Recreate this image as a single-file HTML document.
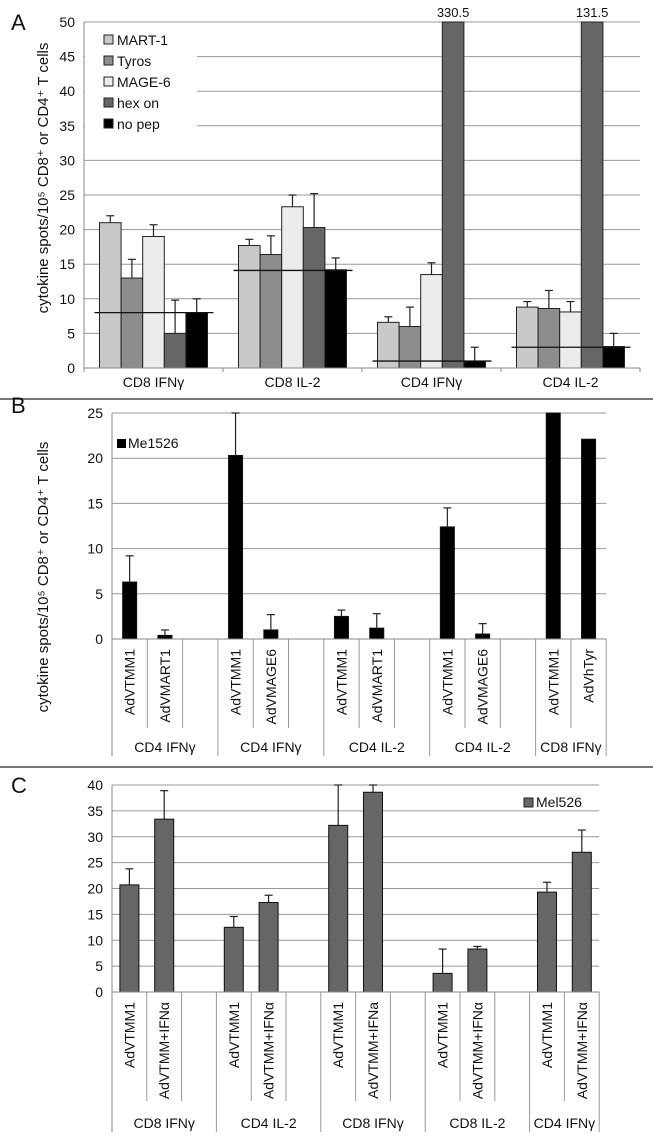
<!DOCTYPE html>
<html><head><meta charset="utf-8"><style>
html,body{margin:0;padding:0;background:#fff}
svg{display:block;font-family:"Liberation Sans",sans-serif}
</style></head><body>
<svg id="fig" width="653" height="1139" viewBox="0 0 653 1139" xmlns="http://www.w3.org/2000/svg"></svg>
<script>
// Panel A data
const aCategories = ["CD8 IFN\u03b3","CD8 IL-2","CD4 IFN\u03b3","CD4 IL-2"];
const aSeries = ["MART-1","Tyros","MAGE-6","hex on","no pep"];
const aMART = [21, 17.7, 6.6, 8.8];
const aMARTErr = [22, 18.6, 7.4, 9.6];
const aTyros = [13, 16.4, 6, 8.6];
const aTyrosErr = [15.7, 19.1, 8.8, 11.2];
const aMAGE = [19, 23.3, 13.5, 8.1];
const aMAGEErr = [20.7, 25, 15.2, 9.6];
const aHex = [5, 20.3, 330.5, 131.5];
const aHexErr = [9.8, 25.2, 330.5, 131.5];
const aNoPep = [8, 14.2, 1, 3.1];
const aNoPepErr = [10, 15.9, 3, 5];
const aBaseline = [8, 14.1, 1, 3];
const aTicks = [0,5,10,15,20,25,30,35,40,45,50];
// Panel B data
const bGroups = ["CD4 IFN\u03b3","CD4 IFN\u03b3","CD4 IL-2","CD4 IL-2","CD8 IFN\u03b3"];
const bLabels = [["AdVTMM1","AdVMART1"],["AdVTMM1","AdVMAGE6"],["AdVTMM1","AdVMART1"],["AdVTMM1","AdVMAGE6"],["AdVTMM1","AdVhTyr"]];
const bValues = [[6.3,0.4],[20.3,1.0],[2.5,1.2],[12.4,0.55],[30,22.1]];
const bErr = [[9.2,1.0],[26,2.7],[3.2,2.8],[14.5,1.7],[30,22.1]];
const bTicks = [0,5,10,15,20,25];
// Panel C data
const cGroups = ["CD8 IFN\u03b3","CD4 IL-2","CD8 IFN\u03b3","CD8 IL-2","CD4 IFN\u03b3"];
const cLabels = [["AdVTMM1","AdVTMM+IFN\u03b1"],["AdVTMM1","AdVTMM+IFN\u03b1"],["AdVTMM1","AdVTMM+IFNa"],["AdVTMM1","AdVTMM+IFN\u03b1"],["AdVTMM1","AdVTMM+IFN\u03b1"]];
const cValues = [[20.7,33.4],[12.5,17.3],[32.2,38.6],[3.6,8.3],[19.3,27]];
const cErr = [[23.8,38.9],[14.6,18.7],[40,40],[8.3,8.8],[21.2,31.3]];
const cTicks = [0,5,10,15,20,25,30,35,40];

const NS="http://www.w3.org/2000/svg";
const svg=document.getElementById('fig');
function mk(tag,attrs,parent,name,inter){
  const e=document.createElementNS(NS,tag);
  for(const k in attrs)e.setAttribute(k,attrs[k]);
  
  
  (parent||svg).appendChild(e);return e;
}
function txt(x,y,s,size,anchor,name,extra){
  const t=mk('text',Object.assign({x:x,y:y,'font-size':size,'text-anchor':anchor||'start',fill:'#111'},extra||{}),svg,name,false);
  t.textContent=s;return t;
}
function errbar(cx,y1,y2,name){
  if(y2>=y1-0.5)return;
  mk('line',{x1:cx,x2:cx,y1:y1,y2:y2,stroke:'#222','stroke-width':1.2},svg,name,false);
  mk('line',{x1:cx-4,x2:cx+4,y1:y2,y2:y2,stroke:'#222','stroke-width':1.2},svg,name+'-cap',false);
}

// ===== Panel A =====
(function(){
  const L=84,R=640,T=22,B=368,max=50;
  const y=v=>B-(Math.min(v,max)/max)*(B-T);
  txt(11,30,"A",22,'start','panel-a-label');
  aTicks.forEach(v=>{
    mk('line',{x1:L,x2:R,y1:y(v),y2:y(v),stroke:'#999','stroke-width':1},svg,'gridline-a',false);
    txt(75,y(v)+5,String(v),14,'end','y-tick-a');
  });
  mk('line',{x1:L,x2:L,y1:T,y2:B+4,stroke:'#888'},svg,'y-axis-a',false);
  const gw=(R-L)/aCategories.length, bw=21.6, pad=(gw-5*bw)/2;
  const cols=['#c9c9c9','#8d8d8d','#ececec','#666','#000'];
  const vals=[aMART,aTyros,aMAGE,aHex,aNoPep], errs=[aMARTErr,aTyrosErr,aMAGEErr,aHexErr,aNoPepErr];
  mk('rect',{x:L+1,y:28,width:112,height:108,fill:'#fff'},svg,'legend-bg-a',false);
  aCategories.forEach((c,i)=>{
    const gx=L+i*gw;
    for(let s=0;s<5;s++){
      const x=gx+pad+s*bw, v=vals[s][i];
      mk('rect',{x:x,y:y(v),width:bw,height:B-y(v),fill:cols[s],stroke:'#222','stroke-width':1},svg,'bar-a-'+s,false);
      errbar(x+bw/2,y(v),y(errs[s][i]),'error-bar-a');
      if(v>max) txt(x+bw/2,17,String(v),13,'middle','value-label-a');
    }
    mk('line',{x1:gx+pad-5,x2:gx+gw-pad+6,y1:y(aBaseline[i]),y2:y(aBaseline[i]),stroke:'#111','stroke-width':1.3},svg,'baseline-a',false);
    mk('line',{x1:gx+gw,x2:gx+gw,y1:B,y2:B+4,stroke:'#888'},svg,'x-tick-a',false);
    txt(gx+gw/2,387,c,14,'middle','x-category-a');
  });
  mk('line',{x1:L,x2:R,y1:B,y2:B,stroke:'#888'},svg,'x-axis-a',false);
  aSeries.forEach((s,i)=>{
    const ly=40+i*21;
    mk('rect',{x:104,y:ly-5,width:9,height:9,fill:cols[i],stroke:'#222'},svg,'legend-swatch-a',false);
    txt(117,ly+5,s,14,'start','legend-entry-a');
  });
  txt(48,178,"cytokine spots/10\u2075 CD8\u207a or CD4\u207a T cells",15,'middle','y-axis-title-a',{transform:'rotate(-90 48 178)'});
  mk('line',{x1:0,x2:653,y1:399,y2:399,stroke:'#777','stroke-width':2},svg,'separator-ab',false);
})();

function panel(o){
  const L=112,slot=o.slot,T=o.T,B=o.B,max=o.max;
  const y=v=>B-(Math.min(v,max)/max)*(B-T);
  const nSlots=o.labels.reduce((a,g,i)=>a+(i<o.labels.length-1?3:2),0);
  const R=L+nSlots*slot;
  o.ticks.forEach(v=>{
    mk('line',{x1:L,x2:R,y1:y(v),y2:y(v),stroke:'#999','stroke-width':1},svg,'gridline-'+o.id,false);
    txt(o.tickX,y(v)+5,String(v),14,'end','y-tick-'+o.id);
  });
  mk('line',{x1:L,x2:L,y1:T,y2:o.groupBottom,stroke:'#888'},svg,'y-axis-'+o.id,false);
  let s=0;
  o.labels.forEach((g,gi)=>{
    const gStart=L+s*slot;
    const n=gi<o.labels.length-1?3:2;
    g.forEach((lab,k)=>{
      const cx=L+(s+k+0.5)*slot, v=o.values[gi][k];
      mk('rect',{x:cx-o.bw/2,y:y(v),width:o.bw,height:B-y(v),fill:o.color,stroke:'#111','stroke-width':1},svg,'bar-'+o.id,false);
      errbar(cx,y(v),y(o.err[gi][k]),'error-bar-'+o.id);
      txt(cx+5,o.labTop,lab,14,'end','x-sublabel-'+o.id,{transform:'rotate(-90 '+(cx+5)+' '+o.labTop+')'});
    });
    for(let k=1;k<n;k++){
      const xx=L+(s+k)*slot;
      mk('line',{x1:xx,x2:xx,y1:B,y2:o.subBottom,stroke:'#999'},svg,'sub-divider-'+o.id,false);
    }
    const gEnd=L+(s+n)*slot;
    mk('line',{x1:gEnd,x2:gEnd,y1:B,y2:o.groupBottom,stroke:'#999'},svg,'group-divider-'+o.id,false);
    txt((gStart+gEnd)/2,o.groupY,o.groups[gi],14,'middle','x-group-'+o.id);
    s+=n;
  });
  mk('line',{x1:L,x2:R,y1:B,y2:B,stroke:'#888'},svg,'x-axis-'+o.id,false);
}
txt(11,413,"B",22,'start','panel-b-label');
panel({id:'b',T:413,B:639,max:25,slot:35.3,bw:14,color:'#000',ticks:bTicks,tickX:103,labels:bLabels,values:bValues,err:bErr,groups:bGroups,labTop:649,subBottom:728,groupBottom:756,groupY:752});
mk('rect',{x:117,y:439,width:9,height:9,fill:'#000'},svg,'legend-swatch-b',false);
txt(128,448,"Me1526",14,'start','legend-entry-b');
txt(48,577,"cytokine spots/10\u2075 CD8\u207a or CD4\u207a T cells",15,'middle','y-axis-title-b',{transform:'rotate(-90 48 577)'});
mk('line',{x1:0,x2:653,y1:767,y2:767,stroke:'#777','stroke-width':2},svg,'separator-bc',false);

txt(11,793,"C",22,'start','panel-c-label');
panel({id:'c',T:785,B:992,max:40,slot:34.8,bw:19,color:'#666',ticks:cTicks,tickX:103,labels:cLabels,values:cValues,err:cErr,groups:cGroups,labTop:1002,subBottom:1101,groupBottom:1132,groupY:1128});
mk('rect',{x:524,y:798,width:9,height:9,fill:'#666',stroke:'#222'},svg,'legend-swatch-c',false);
txt(536,807,"Mel526",14,'start','legend-entry-c');
</script>
</body></html>
